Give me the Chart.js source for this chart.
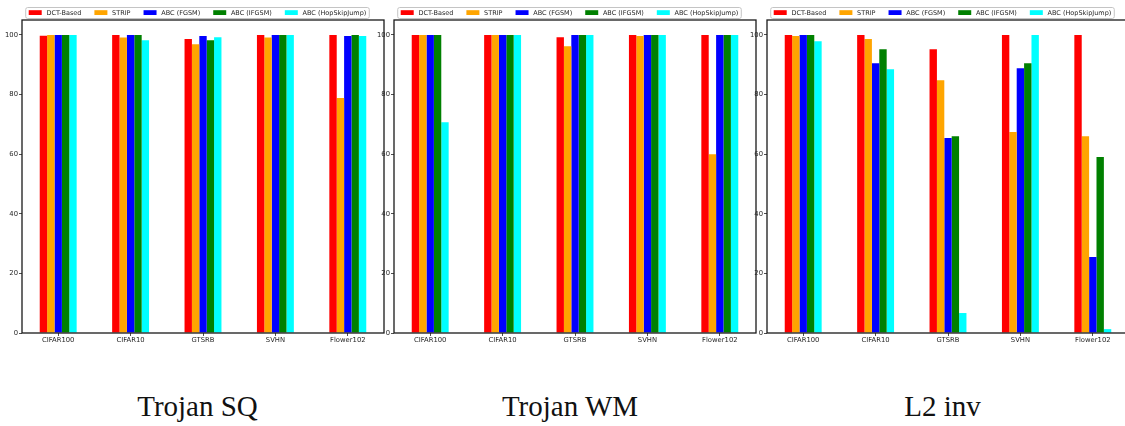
<!DOCTYPE html>
<html><head><meta charset="utf-8">
<script src="https://cdn.jsdelivr.net/npm/chart.js@4.4.1/dist/chart.umd.min.js"></script>
<style>
html,body{margin:0;padding:0;background:#fff;width:1125px;height:426px;overflow:hidden;position:relative}
canvas{position:absolute;top:0}
.ttl{position:absolute;top:392px;width:300px;text-align:center;font-family:"Liberation Serif","Times New Roman",serif;font-size:29px;line-height:29px;color:#111;white-space:nowrap}
</style></head><body>
<canvas id="c0" width="395" height="348" style="left:0px"></canvas>
<canvas id="c1" width="395" height="348" style="left:372px"></canvas>
<canvas id="c2" width="395" height="348" style="left:745px"></canvas>
<div class="ttl" id="t0" style="left:47.5px"></div>
<div class="ttl" id="t1" style="left:420px"></div>
<div class="ttl" id="t2" style="left:792.5px"></div>
<script>
const categories = ['CIFAR100','CIFAR10','GTSRB','SVHN','Flower102'];
const methods = ['DCT-Based','STRIP','ABC (FGSM)','ABC (IFGSM)','ABC (HopSkipJump)'];
const panelTitles = ['Trojan SQ','Trojan WM','L2 inv'];
const yTicks = [0,20,40,60,80,100];

// Trojan SQ
const sqDCT   = [99.7,100,98.6,100,100];
const sqSTRIP = [100,99.1,96.9,99.1,78.8];
const sqFGSM  = [100,100,99.6,100,99.6];
const sqIFGSM = [100,100,98.2,100,100];
const sqHSJ   = [100,98.2,99.2,100,99.6];
// Trojan WM
const wmDCT   = [100,100,99.2,100,100];
const wmSTRIP = [100,100,96.2,99.6,60.0];
const wmFGSM  = [100,100,100,100,100];
const wmIFGSM = [100,100,100,100,100];
const wmHSJ   = [70.7,100,100,100,100];
// L2 inv
const l2DCT   = [100,100,95.2,100,100];
const l2STRIP = [99.6,98.6,84.8,67.4,66.0];
const l2FGSM  = [100,90.5,65.4,88.8,25.5];
const l2IFGSM = [100,95.2,66.0,90.5,59.0];
const l2HSJ   = [97.9,88.5,6.7,100,1.3];

const colors = ['#ff0000','#ffa500','#0000ff','#008000','#00ffff'];
const panels = [
  [sqDCT,sqSTRIP,sqFGSM,sqIFGSM,sqHSJ],
  [wmDCT,wmSTRIP,wmFGSM,wmIFGSM,wmHSJ],
  [l2DCT,l2STRIP,l2FGSM,l2IFGSM,l2HSJ]
];

const FONT = '"DejaVu Sans", sans-serif';
const TXT = '#262626';

const boxPlugin = {
  id:'box',
  afterDatasetsDraw(chart){
    const {ctx, chartArea:a} = chart;
    ctx.save();
    ctx.strokeStyle = '#1a1a1a';
    ctx.lineWidth = 1.3;
    ctx.strokeRect(a.left, a.top, a.right-a.left, a.bottom-a.top);
    ctx.restore();
  }
};

const legendPlugin = {
  id:'mplLegend',
  afterDraw(chart){
    const ctx = chart.ctx;
    const ds = chart.data.datasets;
    ctx.save();
    ctx.font = '6.5px ' + FONT;
    const sw = 13, gap = 4.7, col = 13, pad = 3;
    const widths = ds.map(d => ctx.measureText(d.label).width);
    let total = pad*2;
    widths.forEach((w,i)=>{ total += sw + gap + w + (i<widths.length-1?col:0); });
    const cx = chart.width/2;
    const x0 = cx - total/2, y0 = 7.5, h = 11;
    ctx.beginPath();
    if (ctx.roundRect) ctx.roundRect(x0, y0, total, h, 2); else ctx.rect(x0,y0,total,h);
    ctx.fillStyle = 'rgba(255,255,255,0.85)';
    ctx.fill();
    ctx.strokeStyle = '#c4c4c4';
    ctx.lineWidth = 1;
    ctx.stroke();
    let x = x0 + pad;
    ds.forEach((d,i)=>{
      ctx.fillStyle = d.backgroundColor;
      ctx.fillRect(x, 10.2, sw, 4.8);
      x += sw + gap;
      ctx.fillStyle = TXT;
      ctx.textBaseline = 'middle';
      ctx.textAlign = 'left';
      ctx.fillText(d.label, x, 13);
      x += widths[i] + col;
    });
    ctx.restore();
  }
};

panels.forEach((series, p) => {
  document.getElementById('t'+p).textContent = panelTitles[p];
  new Chart(document.getElementById('c'+p), {
    type:'bar',
    data:{
      labels: categories,
      datasets: methods.map((m,i)=>({label:m, data:series[i], backgroundColor:colors[i], borderWidth:0}))
    },
    options:{
      responsive:false, animation:false, devicePixelRatio:1,
      layout:{padding:{top:20,right:11,left:0,bottom:0}},
      plugins:{legend:{display:false}, tooltip:{enabled:false}, title:{display:false}},
      datasets:{bar:{categoryPercentage:0.51, barPercentage:1}},
      scales:{
        x:{
          grid:{display:true, offset:false, drawOnChartArea:false, drawTicks:true, tickLength:3, tickColor:'#222', lineWidth:0.8},
          border:{display:false},
          ticks:{font:{size:6.8, family:FONT}, color:TXT, padding:0, maxRotation:0, autoSkip:false},
          afterFit:s=>{ s.height = 15; }
        },
        y:{
          min:0, max:105,
          afterBuildTicks:s=>{ s.ticks = yTicks.map(v=>({value:v})); },
          grid:{display:true, drawOnChartArea:false, drawTicks:true, tickLength:3, tickColor:'#222', lineWidth:0.8},
          border:{display:false},
          ticks:{font:{size:6.8, family:FONT}, color:TXT, padding:1},
          afterFit:s=>{ s.width = 22; }
        }
      }
    },
    plugins:[boxPlugin, legendPlugin]
  });
});
</script>
</body></html>
